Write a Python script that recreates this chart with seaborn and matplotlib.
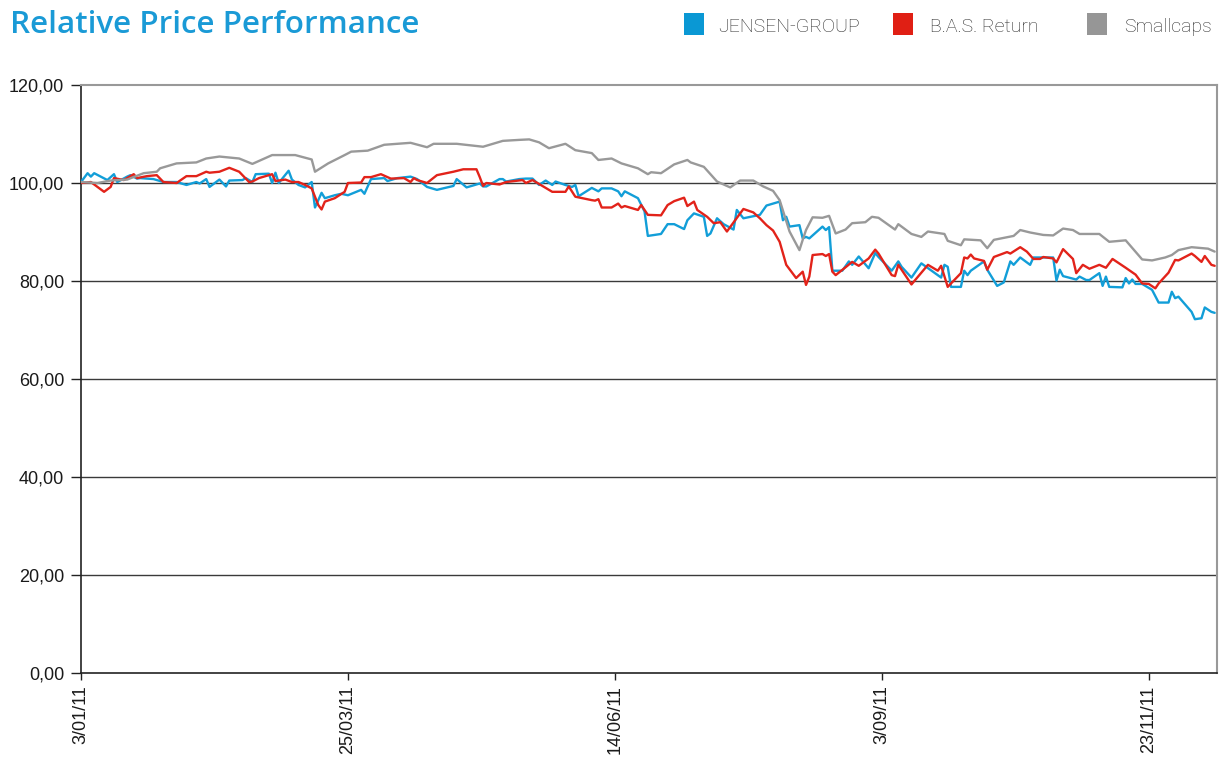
import matplotlib
matplotlib.use("Agg")
import matplotlib.pyplot as plt
import matplotlib.dates as mdates
from matplotlib.patches import Rectangle
from matplotlib.ticker import FuncFormatter, FixedLocator
import seaborn as sns
import pandas as pd

# ---------------- data ----------------
series_names = ["JENSEN-GROUP", "B.A.S. Return", "Smallcaps"]

jensen_dates = [
    "2011-01-03", "2011-01-05", "2011-01-06", "2011-01-07", "2011-01-11", "2011-01-13", "2011-01-14",
    "2011-01-17", "2011-01-18", "2011-01-20", "2011-01-21", "2011-01-25", "2011-01-28", "2011-02-01",
    "2011-02-04", "2011-02-07", "2011-02-08", "2011-02-10", "2011-02-11", "2011-02-14", "2011-02-16",
    "2011-02-17", "2011-02-21", "2011-02-22", "2011-02-24", "2011-02-25", "2011-03-01", "2011-03-02",
    "2011-03-03", "2011-03-04", "2011-03-07", "2011-03-08", "2011-03-10", "2011-03-12", "2011-03-14",
    "2011-03-15", "2011-03-17", "2011-03-18", "2011-03-21", "2011-03-23", "2011-03-25", "2011-03-29",
    "2011-03-30", "2011-04-01", "2011-04-05", "2011-04-06", "2011-04-09", "2011-04-13", "2011-04-15",
    "2011-04-18", "2011-04-21", "2011-04-26", "2011-04-27", "2011-04-30", "2011-05-04", "2011-05-05",
    "2011-05-06", "2011-05-10", "2011-05-11", "2011-05-12", "2011-05-16", "2011-05-18", "2011-05-20",
    "2011-05-22", "2011-05-24", "2011-05-26", "2011-05-27", "2011-05-30", "2011-06-01", "2011-06-02",
    "2011-06-03", "2011-06-07", "2011-06-09", "2011-06-10", "2011-06-13", "2011-06-15", "2011-06-16",
    "2011-06-17", "2011-06-21", "2011-06-23", "2011-06-24", "2011-06-28", "2011-06-30", "2011-07-02",
    "2011-07-05", "2011-07-06", "2011-07-08", "2011-07-11", "2011-07-12", "2011-07-13", "2011-07-15",
    "2011-07-17", "2011-07-20", "2011-07-21", "2011-07-23", "2011-07-28", "2011-07-30", "2011-08-02",
    "2011-08-03", "2011-08-04", "2011-08-05", "2011-08-06", "2011-08-09", "2011-08-10", "2011-08-11",
    "2011-08-12", "2011-08-16", "2011-08-17", "2011-08-18", "2011-08-19", "2011-08-22", "2011-08-24",
    "2011-08-25", "2011-08-27", "2011-08-30", "2011-09-01", "2011-09-02", "2011-09-06", "2011-09-08",
    "2011-09-09", "2011-09-12", "2011-09-15", "2011-09-20", "2011-09-21", "2011-09-22", "2011-09-23",
    "2011-09-24", "2011-09-27", "2011-09-28", "2011-09-29", "2011-09-30", "2011-10-04", "2011-10-05",
    "2011-10-08", "2011-10-10", "2011-10-12", "2011-10-13", "2011-10-15", "2011-10-18", "2011-10-19",
    "2011-10-25", "2011-10-26", "2011-10-27", "2011-10-28", "2011-11-01", "2011-11-02", "2011-11-04",
    "2011-11-05", "2011-11-08", "2011-11-09", "2011-11-10", "2011-11-11", "2011-11-15", "2011-11-16",
    "2011-11-17", "2011-11-18", "2011-11-19", "2011-11-21", "2011-11-24", "2011-11-26", "2011-11-29",
    "2011-11-30", "2011-12-01", "2011-12-02", "2011-12-06", "2011-12-07", "2011-12-09", "2011-12-10",
    "2011-12-12", "2011-12-13",
]
jensen_values = [
    100.2, 102.0, 101.3, 102.0, 100.6, 101.8, 100.2,
    101.3, 101.6, 100.9, 101.0, 100.8, 100.2, 100.2,
    99.6, 100.2, 99.9, 100.8, 99.2, 100.7, 99.3,
    100.5, 100.6, 101.0, 100.2, 101.8, 101.9, 100.0,
    102.1, 100.0, 102.5, 100.7, 99.6, 99.1, 100.2,
    95.0, 98.0, 96.9, 97.5, 97.8, 97.5, 98.6,
    97.8, 100.8, 101.0, 100.4, 101.0, 101.3, 100.8,
    99.2, 98.6, 99.4, 100.8, 99.1, 99.9, 99.3,
    99.3, 100.8, 100.8, 100.3, 100.8, 100.9, 100.9,
    99.6, 100.5, 99.6, 100.3, 99.6, 99.2, 99.6,
    97.3, 99.0, 98.3, 98.9, 98.9, 98.3, 97.3,
    98.3, 96.9, 94.2, 89.2, 89.6, 91.6, 91.6,
    90.6, 92.4, 93.8, 93.1, 89.2, 89.7, 92.8,
    91.6, 90.5, 94.5, 92.8, 93.5, 95.4, 96.0,
    96.2, 92.4, 93.1, 91.1, 91.4, 88.7, 89.0,
    88.7, 91.1, 90.4, 91.0, 82.1, 82.1, 84.0,
    83.3, 85.0, 82.6, 85.7, 84.9, 82.1, 84.0,
    82.9, 80.7, 83.6, 81.2, 80.7, 83.3, 82.9,
    78.8, 78.8, 82.1, 81.2, 82.1, 84.0, 82.3,
    79.0, 79.7, 84.0, 83.3, 84.8, 83.3, 84.8,
    84.8, 80.1, 82.3, 81.0, 80.3, 80.9, 80.2,
    80.2, 81.6, 79.0, 80.9, 78.8, 78.7, 80.6,
    79.5, 80.3, 79.4, 79.4, 78.2, 75.6, 75.6,
    77.8, 76.5, 76.8, 73.7, 72.2, 72.4, 74.6,
    73.7, 73.5,
]

bas_dates = [
    "2011-01-03", "2011-01-06", "2011-01-10", "2011-01-12", "2011-01-13", "2011-01-16", "2011-01-19",
    "2011-01-20", "2011-01-23", "2011-01-26", "2011-01-28", "2011-02-01", "2011-02-04", "2011-02-07",
    "2011-02-10", "2011-02-11", "2011-02-14", "2011-02-17", "2011-02-20", "2011-02-23", "2011-02-24",
    "2011-02-26", "2011-03-02", "2011-03-03", "2011-03-06", "2011-03-08", "2011-03-10", "2011-03-12",
    "2011-03-14", "2011-03-16", "2011-03-17", "2011-03-18", "2011-03-21", "2011-03-24", "2011-03-25",
    "2011-03-29", "2011-03-30", "2011-04-01", "2011-04-04", "2011-04-07", "2011-04-11", "2011-04-13",
    "2011-04-14", "2011-04-15", "2011-04-18", "2011-04-21", "2011-04-26", "2011-04-29", "2011-05-03",
    "2011-05-04", "2011-05-05", "2011-05-06", "2011-05-10", "2011-05-12", "2011-05-17", "2011-05-18",
    "2011-05-20", "2011-05-24", "2011-05-26", "2011-05-30", "2011-05-31", "2011-06-02", "2011-06-07",
    "2011-06-08", "2011-06-09", "2011-06-10", "2011-06-13", "2011-06-15", "2011-06-16", "2011-06-17",
    "2011-06-21", "2011-06-22", "2011-06-24", "2011-06-28", "2011-06-30", "2011-07-02", "2011-07-05",
    "2011-07-06", "2011-07-08", "2011-07-09", "2011-07-12", "2011-07-14", "2011-07-16", "2011-07-18",
    "2011-07-23", "2011-07-26", "2011-07-28", "2011-07-30", "2011-08-01", "2011-08-03", "2011-08-05",
    "2011-08-08", "2011-08-10", "2011-08-11", "2011-08-12", "2011-08-13", "2011-08-16", "2011-08-17",
    "2011-08-18", "2011-08-19", "2011-08-20", "2011-08-23", "2011-08-25", "2011-08-27", "2011-08-30",
    "2011-09-01", "2011-09-02", "2011-09-06", "2011-09-07", "2011-09-08", "2011-09-12", "2011-09-17",
    "2011-09-20", "2011-09-21", "2011-09-23", "2011-09-27", "2011-09-28", "2011-09-29", "2011-09-30",
    "2011-10-01", "2011-10-04", "2011-10-05", "2011-10-07", "2011-10-11", "2011-10-12", "2011-10-15",
    "2011-10-17", "2011-10-19", "2011-10-21", "2011-10-22", "2011-10-25", "2011-10-26", "2011-10-28",
    "2011-10-31", "2011-11-01", "2011-11-03", "2011-11-05", "2011-11-08", "2011-11-10", "2011-11-12",
    "2011-11-16", "2011-11-19", "2011-11-21", "2011-11-23", "2011-11-25", "2011-11-26", "2011-11-29",
    "2011-12-01", "2011-12-02", "2011-12-06", "2011-12-07", "2011-12-09", "2011-12-10", "2011-12-12",
    "2011-12-13",
]
bas_values = [
    100.0, 100.2, 98.2, 99.2, 101.0, 100.6, 101.8,
    101.0, 101.4, 101.6, 100.2, 100.0, 101.4, 101.4,
    102.3, 102.1, 102.3, 103.1, 102.3, 100.2, 100.3,
    101.0, 101.8, 100.4, 100.7, 100.2, 100.2, 99.6,
    98.9, 95.5, 94.6, 96.2, 96.9, 98.2, 100.0,
    100.1, 101.2, 101.2, 101.8, 100.9, 101.0, 100.2,
    101.0, 100.6, 100.0, 101.6, 102.3, 102.8, 102.8,
    101.2, 99.4, 100.0, 99.7, 100.2, 100.6, 100.0,
    100.6, 99.0, 98.2, 98.2, 99.3, 97.2, 96.5,
    96.4, 96.7, 95.0, 95.0, 95.8, 95.0, 95.3,
    94.5, 95.5, 93.5, 93.4, 95.5, 96.3, 97.0,
    95.3, 96.2, 94.5, 93.1, 91.8, 92.0, 90.1,
    94.7, 94.0, 92.8, 91.4, 90.3, 88.0, 83.3,
    80.6, 81.9, 79.2, 80.9, 85.3, 85.5, 85.1,
    85.5, 81.9, 81.2, 82.8, 83.9, 83.1, 84.6,
    86.4, 85.6, 81.2, 81.0, 83.3, 79.3, 83.3,
    82.1, 83.1, 78.8, 81.6, 84.8, 84.6, 85.4,
    84.6, 84.1, 82.3, 84.9, 85.9, 85.6, 86.9,
    86.0, 84.5, 84.5, 84.9, 84.6, 83.8, 86.5,
    84.5, 81.6, 83.3, 82.5, 83.3, 82.7, 84.5,
    82.7, 81.3, 79.5, 79.4, 78.5, 79.5, 81.7,
    84.3, 84.2, 85.6, 85.1, 83.9, 85.1, 83.3,
    83.1,
]

smallcaps_dates = [
    "2011-01-03", "2011-01-08", "2011-01-12", "2011-01-17", "2011-01-22", "2011-01-26", "2011-01-27",
    "2011-02-01", "2011-02-07", "2011-02-10", "2011-02-14", "2011-02-20", "2011-02-24", "2011-03-02",
    "2011-03-09", "2011-03-14", "2011-03-15", "2011-03-19", "2011-03-24", "2011-03-26", "2011-03-31",
    "2011-04-05", "2011-04-13", "2011-04-18", "2011-04-20", "2011-04-27", "2011-05-05", "2011-05-11",
    "2011-05-16", "2011-05-19", "2011-05-22", "2011-05-25", "2011-05-30", "2011-06-02", "2011-06-07",
    "2011-06-09", "2011-06-13", "2011-06-16", "2011-06-21", "2011-06-24", "2011-06-25", "2011-06-28",
    "2011-07-02", "2011-07-06", "2011-07-07", "2011-07-11", "2011-07-15", "2011-07-19", "2011-07-22",
    "2011-07-26", "2011-07-29", "2011-08-01", "2011-08-03", "2011-08-06", "2011-08-09", "2011-08-10",
    "2011-08-11", "2011-08-13", "2011-08-16", "2011-08-18", "2011-08-20", "2011-08-23", "2011-08-25",
    "2011-08-29", "2011-08-31", "2011-09-02", "2011-09-07", "2011-09-08", "2011-09-12", "2011-09-15",
    "2011-09-17", "2011-09-22", "2011-09-23", "2011-09-27", "2011-09-28", "2011-10-03", "2011-10-05",
    "2011-10-07", "2011-10-13", "2011-10-15", "2011-10-18", "2011-10-22", "2011-10-25", "2011-10-28",
    "2011-10-31", "2011-11-02", "2011-11-08", "2011-11-11", "2011-11-16", "2011-11-21", "2011-11-24",
    "2011-11-28", "2011-11-30", "2011-12-02", "2011-12-06", "2011-12-11", "2011-12-13",
]
smallcaps_values = [
    100.2, 100.0, 100.5, 100.7, 102.0, 102.3, 103.0,
    104.0, 104.2, 105.0, 105.4, 105.0, 103.9, 105.7,
    105.7, 104.8, 102.3, 104.0, 105.7, 106.4, 106.6,
    107.8, 108.2, 107.3, 108.0, 108.0, 107.4, 108.6,
    108.8, 108.9, 108.3, 107.1, 108.0, 106.7, 106.1,
    104.7, 105.0, 104.0, 103.0, 101.8, 102.2, 102.0,
    103.8, 104.7, 104.2, 103.3, 100.3, 99.1, 100.5,
    100.5, 99.3, 98.4, 96.5, 90.1, 86.3, 88.4,
    90.4, 93.0, 92.9, 93.3, 89.7, 90.5, 91.8,
    92.0, 93.1, 92.9, 90.5, 91.6, 89.6, 89.0,
    90.1, 89.6, 88.2, 87.3, 88.5, 88.3, 86.7,
    88.4, 89.2, 90.4, 89.9, 89.4, 89.3, 90.7,
    90.4, 89.6, 89.6, 88.0, 88.3, 84.4, 84.2,
    84.8, 85.3, 86.3, 86.9, 86.6, 86.0,
]

x_tick_dates = ["2011-01-03", "2011-03-25", "2011-06-14", "2011-09-03", "2011-11-23"]
x_tick_labels = ["3/01/11", "25/03/11", "14/06/11", "3/09/11", "23/11/11"]
y_ticks = [0, 20, 40, 60, 80, 100, 120]

colors = {"JENSEN-GROUP": "#129ed8", "B.A.S. Return": "#e2231a", "Smallcaps": "#999999"}
legend_colors = {"JENSEN-GROUP": "#0a98d4", "B.A.S. Return": "#e01f14", "Smallcaps": "#969696"}

frames = []
for name, d, v in [("JENSEN-GROUP", jensen_dates, jensen_values),
                   ("B.A.S. Return", bas_dates, bas_values),
                   ("Smallcaps", smallcaps_dates, smallcaps_values)]:
    frames.append(pd.DataFrame({"date": pd.to_datetime(d), "value": v, "series": name}))
df = pd.concat(frames, ignore_index=True)

# ---------------- figure ----------------
sns.set_theme(style="white")
plt.rcParams["font.family"] = ["Liberation Sans", "DejaVu Sans"]

W, H = 1231, 761
fig = plt.figure(figsize=(W / 100, H / 100), dpi=100)
ax = fig.add_axes([81 / W, 1 - 673 / H, (1217 - 81) / W, (673 - 85) / H])

for i, name in enumerate(series_names):
    sub = df[df["series"] == name]
    sns.lineplot(data=sub, x="date", y="value", ax=ax, color=colors[name],
                 linewidth=1.7, zorder=3 + i, legend=False, estimator=None, sort=False)

ax.set_xlim(pd.Timestamp("2011-01-03"), pd.Timestamp("2011-12-13 17:00"))
ax.set_ylim(0, 120)
ax.set_xlabel("")
ax.set_ylabel("")

# gridlines
for yv in y_ticks[1:-1]:
    ax.axhline(yv, color="#3a3a3a", linewidth=1.0, zorder=1)

ax.yaxis.set_major_locator(FixedLocator(y_ticks))
ax.yaxis.set_major_formatter(FuncFormatter(lambda v, p: f"{v:.2f}".replace(".", ",")))
ax.xaxis.set_major_locator(FixedLocator(mdates.date2num(pd.to_datetime(x_tick_dates))))
ax.set_xticklabels(x_tick_labels, rotation=90, va="top", ha="center")

ax.tick_params(axis="y", which="major", direction="out", length=7, width=1, color="#222222",
               labelsize=13, labelcolor="#1a1a1a", pad=5, left=True)
ax.tick_params(axis="x", which="major", direction="out", length=5, width=1, color="#222222",
               labelsize=13, labelcolor="#1a1a1a", pad=4, bottom=True)

for side in ["left", "bottom"]:
    ax.spines[side].set_color("#222222")
    ax.spines[side].set_linewidth(1.2)
for side in ["top", "right"]:
    ax.spines[side].set_color("#999999")
    ax.spines[side].set_linewidth(1.5)
    ax.spines[side].set_visible(True)

# title
fig.text(10 / W, 1 - 25 / H, "Relative Price Performance", color="#1a9ad6",
         fontsize=22.6, fontweight="semibold", family=["Open Sans", "DejaVu Sans"],
         ha="left", va="center")

# legend (manual)
legend_square_x = [684, 893, 1087]
legend_text_x = [718, 930, 1124]
for name, sx, tx in zip(series_names, legend_square_x, legend_text_x):
    fig.patches.append(Rectangle((sx / W, 1 - 35 / H), 20 / W, 22 / H,
                                 transform=fig.transFigure, facecolor=legend_colors[name],
                                 edgecolor="none"))
    fig.text(tx / W, 1 - 27 / H, name, color="#2a2a2a", fontsize=14,
             family=["Roboto", "DejaVu Sans"], fontweight="light",
             ha="left", va="center")

fig.savefig("out.png", dpi=100, facecolor="white")
